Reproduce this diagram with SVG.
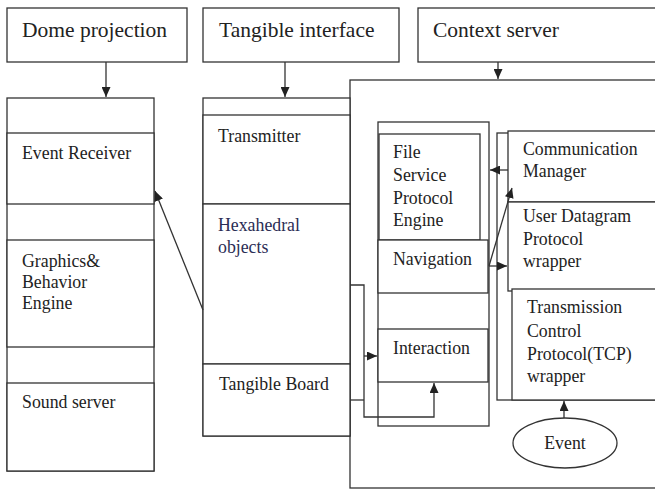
<svg xmlns="http://www.w3.org/2000/svg" width="655" height="489" viewBox="0 0 655 489">
<style>
.b{fill:#fff;stroke:#333;stroke-width:1.3}
.l{fill:none;stroke:#333;stroke-width:1.3}
.t{font-family:"Liberation Serif","Times New Roman",serif;font-size:17.8px;fill:#222}
.h{font-size:21.5px}
.n{fill:#2b2d55}
</style>
<defs>
<marker id="ah" markerUnits="userSpaceOnUse" markerWidth="10" markerHeight="9" refX="10" refY="4.5" orient="auto">
<path d="M0,0 L10,4.5 L0,9 z" fill="#222"/>
</marker>
</defs>
<rect width="655" height="489" fill="#fff"/>
<g id="dome-projection"><rect class="b" x="7" y="8" width="180" height="54"/><text class="t h" x="22" y="37">Dome projection</text></g>
<g id="tangible-interface"><rect class="b" x="203" y="8" width="196" height="54"/><text class="t h" x="219" y="37">Tangible interface</text></g>
<g id="context-server"><rect class="b" x="418" y="8" width="260" height="54"/><text class="t h" x="433" y="37">Context server</text></g>

<g id="dome-stack"><rect class="b" x="7" y="98" width="147" height="373"/></g>
<g id="event-receiver"><rect class="b" x="7" y="133" width="147" height="71"/><text class="t" x="22" y="159">Event Receiver</text></g>
<g id="graphics-engine"><rect class="b" x="7" y="240" width="147" height="107"/><text class="t" x="22" y="267">Graphics&amp;</text><text class="t" x="22" y="288">Behavior</text><text class="t" x="22" y="309">Engine</text></g>
<g id="sound-server"><rect class="b" x="7" y="383" width="147" height="88"/><text class="t" x="22" y="408">Sound server</text></g>

<g id="context-area"><rect class="b" x="350" y="80" width="320" height="408"/></g>

<g id="tangible-stack"><rect class="b" x="203" y="98" width="147" height="338"/></g>
<g id="transmitter"><rect class="b" x="203" y="115" width="147" height="89"/><text class="t" x="218" y="142">Transmitter</text></g>
<g id="hexahedral-objects"><rect class="b" x="203" y="204" width="147" height="160"/><text class="t n" x="218" y="231">Hexahedral</text><text class="t n" x="218" y="253">objects</text></g>
<g id="tangible-board"><rect class="b" x="203" y="364" width="147" height="72"/><text class="t" x="219" y="390">Tangible Board</text></g>

<g id="nav-stack"><rect class="b" x="378" y="122" width="111" height="304"/></g>
<g id="file-service"><rect class="b" x="379" y="134" width="101" height="106"/><text class="t" x="393" y="158">File</text><text class="t" x="393" y="181">Service</text><text class="t" x="393" y="204">Protocol</text><text class="t" x="393" y="226">Engine</text></g>
<g id="navigation"><rect class="b" x="378" y="240" width="110" height="53"/><text class="t" x="393" y="265">Navigation</text></g>
<g id="interaction"><rect class="b" x="378" y="329" width="110" height="53"/><text class="t" x="393" y="354">Interaction</text></g>

<g id="comm-stack"><rect class="b" x="497" y="133" width="180" height="267"/></g>
<g id="communication-manager"><rect class="b" x="508" y="131" width="170" height="71"/><text class="t" x="523" y="155">Communication</text><text class="t" x="523" y="177">Manager</text></g>
<g id="udp-wrapper"><rect class="b" x="508" y="202" width="170" height="89"/><text class="t" x="523" y="222">User Datagram</text><text class="t" x="523" y="245">Protocol</text><text class="t" x="523" y="267">wrapper</text></g>
<g id="tcp-wrapper"><rect class="b" x="512" y="289" width="166" height="111"/><text class="t" x="527" y="313">Transmission</text><text class="t" x="527" y="337">Control</text><text class="t" x="527" y="360">Protocol(TCP)</text><text class="t" x="527" y="382">wrapper</text></g>

<g id="event"><ellipse class="b" cx="565" cy="443" rx="52" ry="25"/><text class="t" x="565" y="449" text-anchor="middle">Event</text></g>

<g id="connectors">
<path class="l" d="M106,62 V97" marker-end="url(#ah)"/>
<path class="l" d="M285,62 V97" marker-end="url(#ah)"/>
<path class="l" d="M498,62 V79" marker-end="url(#ah)"/>
<path class="l" d="M203,310 L155,191" marker-end="url(#ah)"/>
<path class="l" d="M350,285 H364 V417 H434 V383" marker-end="url(#ah)"/>
<path class="l" d="M350,400 H364"/>
<path class="l" d="M364,356 H377" marker-end="url(#ah)"/>
<path class="l" d="M508,170 H490" marker-end="url(#ah)"/>
<path class="l" d="M489,266 L512,188" marker-end="url(#ah)"/>
<path class="l" d="M489,266 H507" marker-end="url(#ah)"/>
<path class="l" d="M564,418 V401" marker-end="url(#ah)"/>
</g>
</svg>
